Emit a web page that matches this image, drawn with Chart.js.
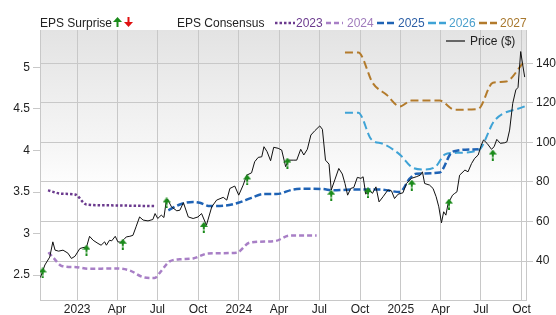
<!DOCTYPE html>
<html>
<head>
<meta charset="utf-8">
<script src="https://cdn.jsdelivr.net/npm/chart.js@4.4.1/dist/chart.umd.min.js"></script>
<style>
  body { margin: 0; background: #fff; }
  #wrap { position: relative; width: 556px; height: 315px; font-family: "Liberation Sans", Arial, sans-serif; font-size: 12px; color: #222; }
  #c { position: absolute; left: 0; top: 0; }
  .lg { position: absolute; line-height: 12px; white-space: nowrap; }
  .lg svg { position: absolute; }
</style>
</head>
<body>
<div id="wrap">
  <canvas id="c" width="556" height="315"></canvas>

  <div class="lg" style="left:40px; top:17px;">EPS Surprise</div>
  <svg style="position:absolute; left:113px; top:17px;" width="20" height="11">
    <polygon points="4.5,0 9,5 0,5" fill="#1a8a1a"/><rect x="3.5" y="5" width="2" height="5" fill="#1a8a1a"/>
    <polygon points="15.5,10 20,5 11,5" fill="#e01010"/><rect x="14.5" y="0" width="2" height="5" fill="#e01010"/>
  </svg>

  <div class="lg" style="left:177px; top:17px;">EPS Consensus</div>
  <svg style="position:absolute; left:274px; top:18px;" width="260" height="10">
    <line x1="1" y1="5" x2="21" y2="5" stroke="#6b3a8e" stroke-width="2.5" stroke-dasharray="2.5,2"/>
    <line x1="52" y1="5" x2="69" y2="5" stroke="#a87fc6" stroke-width="2.5" stroke-dasharray="5,3"/>
    <line x1="103" y1="5" x2="120" y2="5" stroke="#1f63b5" stroke-width="2.5" stroke-dasharray="7,3"/>
    <line x1="154" y1="5" x2="172" y2="5" stroke="#3fa3d6" stroke-width="2.5" stroke-dasharray="8,3"/>
    <line x1="205" y1="5" x2="223" y2="5" stroke="#b37b2c" stroke-width="2.5" stroke-dasharray="8,3"/>
  </svg>
  <div class="lg" style="left:296px; top:17px; color:#6b3a8e;">2023</div>
  <div class="lg" style="left:347px; top:17px; color:#a07cbc;">2024</div>
  <div class="lg" style="left:398px; top:17px; color:#2c5fa6;">2025</div>
  <div class="lg" style="left:449px; top:17px; color:#4a9fcc;">2026</div>
  <div class="lg" style="left:500px; top:17px; color:#a8782e;">2027</div>

  <svg style="position:absolute; left:446px; top:36px;" width="20" height="10">
    <line x1="0" y1="5" x2="19" y2="5" stroke="#666" stroke-width="2"/>
  </svg>
  <div class="lg" style="left:470px; top:35px;">Price ($)</div>
</div>

<script>
// ---- tick labels ----
const xTickDates = ['2023-01-01','2023-04-01','2023-07-01','2023-10-01','2024-01-01','2024-04-01','2024-07-01','2024-10-01','2025-01-01','2025-04-01','2025-07-01','2025-10-01'];
const xTickLabels = ['2023','Apr','Jul','Oct','2024','Apr','Jul','Oct','2025','Apr','Jul','Oct'];
const epsTicks = [2.5, 3, 3.5, 4, 4.5, 5];
const priceTicks = [40, 60, 80, 100, 120, 140];

// ---- price (right axis) ----
const priceDates = ['2022-10-10','2022-10-20','2022-10-31','2022-11-07','2022-11-12','2022-11-20','2022-11-30','2022-12-11','2022-12-19','2022-12-27',
  '2023-01-07','2023-01-14','2023-01-22','2023-01-29','2023-02-06','2023-02-17','2023-02-24','2023-03-04','2023-03-08','2023-03-15','2023-03-20','2023-03-28',
  '2023-04-03','2023-04-10','2023-04-17','2023-04-22','2023-04-30','2023-05-07','2023-05-14','2023-05-22','2023-05-30','2023-06-10','2023-06-21','2023-06-26',
  '2023-07-02','2023-07-10','2023-07-16','2023-07-21','2023-07-24','2023-08-02','2023-08-14','2023-08-21','2023-08-29','2023-09-09','2023-09-20',
  '2023-10-01','2023-10-09','2023-10-20','2023-11-01','2023-11-12','2023-11-27','2023-12-05','2023-12-12','2023-12-23',
  '2024-01-01','2024-01-11','2024-01-19','2024-01-30','2024-02-06','2024-02-14','2024-02-22','2024-02-27','2024-03-05','2024-03-13','2024-03-20','2024-03-30',
  '2024-04-07','2024-04-16','2024-04-22','2024-05-03','2024-05-11','2024-05-20','2024-05-27','2024-06-04','2024-06-12','2024-06-21',
  '2024-07-02','2024-07-08','2024-07-15','2024-07-23','2024-07-28','2024-08-05','2024-08-14','2024-08-22','2024-08-28','2024-09-03','2024-09-10','2024-09-17','2024-09-25',
  '2024-10-03','2024-10-08','2024-10-14','2024-10-21','2024-10-29','2024-11-06','2024-11-13','2024-11-22','2024-12-03','2024-12-11','2024-12-18','2024-12-26',
  '2025-01-06','2025-01-14','2025-01-25','2025-02-05','2025-02-14','2025-02-19','2025-02-24','2025-03-07','2025-03-15','2025-03-22','2025-03-28',
  '2025-04-03','2025-04-08','2025-04-13','2025-04-18','2025-04-28','2025-05-03','2025-05-08','2025-05-14','2025-05-26','2025-06-02','2025-06-10','2025-06-17','2025-06-25',
  '2025-07-02','2025-07-07','2025-07-15','2025-07-25','2025-07-31','2025-08-06','2025-08-14','2025-08-24','2025-08-29','2025-09-04','2025-09-11','2025-09-18','2025-09-23',
  '2025-09-29','2025-10-03','2025-10-08'];
const priceValues = [31.7,38,42,49.7,45.5,45,45.5,44,41.3,42.4,
  46.3,46.8,47,52.5,50.5,48.9,48,49.7,48,50.5,50.2,52.5,
  49.7,49.5,51,52.2,52.5,53,57.3,62.3,60.7,60.3,61,64,
  61.5,63.2,62,70,71.3,67.4,65.4,65.7,69.5,62.3,61.5,
  62.3,64,58.1,67.4,70.8,72.2,70.8,76.7,77.9,
  73.3,78.4,83.4,84.6,90.2,92.4,92.7,97.8,95.3,90.7,97.5,97,
  96.1,87.7,91,91,91,96.5,93.6,96.5,103.7,105.9,
  108.3,106.6,91,89,75.9,81,86.8,84,79.2,73.3,76.7,77.2,82.3,
  81.8,82.6,73.8,76.2,74.2,77.5,69.9,72.5,75.9,75.5,71.6,73.8,
  74.5,79.2,81.8,82.6,83.4,85.1,79.2,78.4,76.7,72.5,67.4,
  59.3,64.9,63.2,69.1,73.3,74.2,75,83.4,86,85.1,89.3,91.9,93.6,
  98.6,101.2,99.5,96.5,97.8,101.5,99.5,99.8,100.3,106.2,119.7,126.5,127.8,
  145.9,140,133];

// ---- EPS consensus (left axis) ----
const eps2023Dates = ['2022-10-27','2022-11-26','2022-12-27','2023-01-22','2023-03-04','2023-06-25'];
const eps2023 = [3.52,3.48,3.47,3.35,3.34,3.33];
const eps2024Dates = ['2022-10-28','2022-11-08','2022-11-27','2022-12-31','2023-01-26','2023-03-27','2023-04-30','2023-05-30','2023-06-25','2023-07-07',
  '2023-07-29','2023-08-21','2023-09-20','2023-10-24','2023-12-27','2024-01-26','2024-03-23','2024-04-25','2024-06-25'];
const eps2024 = [2.775,2.71,2.61,2.595,2.575,2.58,2.555,2.475,2.465,2.53,2.665,2.69,2.70,2.76,2.77,2.89,2.91,2.975,2.975];
const eps2025Dates = ['2023-07-26','2023-08-21','2023-09-20','2023-10-05','2023-10-28','2023-12-01','2023-12-31','2024-01-30','2024-02-25','2024-03-26',
  '2024-05-03','2024-06-03','2024-07-10','2024-08-01','2024-09-15','2024-11-15','2024-12-30','2025-01-21','2025-02-05','2025-03-30',
  '2025-04-25','2025-05-10','2025-06-26'];
const eps2025 = [3.28,3.35,3.38,3.37,3.33,3.335,3.37,3.43,3.475,3.475,3.53,3.54,3.535,3.52,3.53,3.53,3.50,3.66,3.72,3.735,3.97,4.0,4.015];
const eps2026Dates = ['2024-08-28','2024-09-27','2024-10-27','2024-11-22','2024-12-30','2025-01-29','2025-02-24','2025-03-22','2025-04-10','2025-04-29',
  '2025-06-25','2025-08-01','2025-10-08'];
const eps2026 = [4.455,4.455,4.13,4.08,3.95,3.79,3.77,3.81,3.95,3.97,4.0,4.36,4.53];
const eps2027Dates = ['2024-08-28','2024-09-27','2024-10-30','2024-11-30','2024-12-30','2025-01-25','2025-03-30','2025-05-03','2025-06-25','2025-07-28',
  '2025-08-27','2025-10-04'];
const eps2027 = [5.18,5.18,4.81,4.67,4.53,4.60,4.60,4.49,4.50,4.815,4.83,5.05];

// ---- EPS surprise markers (all beats), placed on the price scale ----
const surpriseDates = ['2022-10-15','2023-01-22','2023-04-14','2023-07-22','2023-10-14','2024-01-20','2024-04-20','2024-07-28','2024-10-19','2025-01-26','2025-04-20','2025-07-28'];
const surpriseValues = [34,45.5,48.5,69.4,57,81,89.5,73.3,74.5,78.4,68.8,93.6];

function dayNum(s) {
  return Date.UTC(+s.slice(0, 4), +s.slice(5, 7) - 1, +s.slice(8, 10)) / 86400000;
}
function pts(dates, vals) {
  return dates.map((d, i) => ({ x: dayNum(d), y: vals[i] }));
}

// green up arrow used as point style
function makeArrow(color) {
  const c = document.createElement('canvas');
  c.width = 8; c.height = 11;
  const g = c.getContext('2d');
  g.fillStyle = color;
  g.beginPath();
  g.moveTo(4, 0); g.lineTo(8, 5); g.lineTo(0, 5); g.closePath();
  g.fill();
  g.fillRect(3, 5, 2, 2.5);
  g.fillRect(3, 8.5, 2, 2.5);
  return c;
}
const upArrow = makeArrow('#1a8a1a');

const bgPlugin = {
  id: 'bg',
  beforeDraw(chart) {
    const { ctx, chartArea: a } = chart;
    const g = ctx.createLinearGradient(0, a.top, 0, a.bottom);
    g.addColorStop(0, '#e3e3e3');
    g.addColorStop(0.45, '#f7f7f7');
    g.addColorStop(0.6, '#ffffff');
    ctx.save();
    ctx.fillStyle = g;
    ctx.fillRect(a.left, a.top, a.right - a.left, a.bottom - a.top);
    ctx.restore();
  }
};

function epsLine(dates, vals, color, dash, width) {
  return {
    data: pts(dates, vals),
    yAxisID: 'y',
    borderColor: color,
    borderWidth: width,
    borderDash: dash,
    pointRadius: 0,
    fill: false,
    cubicInterpolationMode: 'monotone',
    order: 3
  };
}

const gridColor = '#c8c8c8';
const tickFont = { family: '"Liberation Sans", Arial, sans-serif', size: 12 };

new Chart(document.getElementById('c').getContext('2d'), {
  type: 'line',
  data: {
    datasets: [
      {
        data: pts(surpriseDates, surpriseValues),
        yAxisID: 'y1',
        showLine: false,
        pointStyle: upArrow,
        pointRadius: 5,
        order: 0
      },
      {
        data: pts(priceDates, priceValues),
        yAxisID: 'y1',
        borderColor: '#111',
        borderWidth: 1,
        pointRadius: 0,
        tension: 0,
        order: 1
      },
      epsLine(eps2023Dates, eps2023, '#6b3a8e', [2.5, 2], 2.5),
      epsLine(eps2024Dates, eps2024, '#a87fc6', [5, 3], 2.5),
      epsLine(eps2025Dates, eps2025, '#1f63b5', [7, 3], 2.5),
      epsLine(eps2026Dates, eps2026, '#3fa3d6', [8, 4], 2),
      epsLine(eps2027Dates, eps2027, '#b37b2c', [8, 4], 2)
    ]
  },
  options: {
    responsive: false,
    animation: false,
    devicePixelRatio: 1,
    layout: { padding: { top: 30, left: 0, right: 0, bottom: 0 } },
    plugins: { legend: { display: false }, tooltip: { enabled: false } },
    scales: {
      x: {
        type: 'linear',
        min: dayNum('2022-10-09'),
        max: dayNum('2025-10-11'),
        afterBuildTicks: (s) => { s.ticks = xTickDates.map(d => ({ value: dayNum(d) })); },
        afterFit: (s) => { s.height = 15; },
        grid: { color: gridColor, tickLength: 0 },
        border: { color: gridColor },
        ticks: {
          autoSkip: false, maxRotation: 0, padding: 2,
          color: '#222', font: tickFont,
          callback: (v, i) => xTickLabels[i]
        }
      },
      y: {
        position: 'left',
        min: 2.2,
        max: 5.45,
        afterBuildTicks: (s) => { s.ticks = epsTicks.map(v => ({ value: v })); },
        afterFit: (s) => { s.width = 40; },
        grid: { drawOnChartArea: false, color: gridColor, tickLength: 7 },
        border: { color: gridColor },
        ticks: { padding: 3, color: '#222', font: tickFont, callback: (v) => String(v) }
      },
      y1: {
        position: 'right',
        min: 20.3,
        max: 156.8,
        afterBuildTicks: (s) => { s.ticks = priceTicks.map(v => ({ value: v })); },
        afterFit: (s) => { s.width = 30; },
        grid: { color: gridColor, tickLength: 7 },
        border: { color: gridColor },
        ticks: { padding: 3, color: '#222', font: tickFont, callback: (v) => String(v) }
      }
    }
  },
  plugins: [bgPlugin]
});
</script>
</body>
</html>
